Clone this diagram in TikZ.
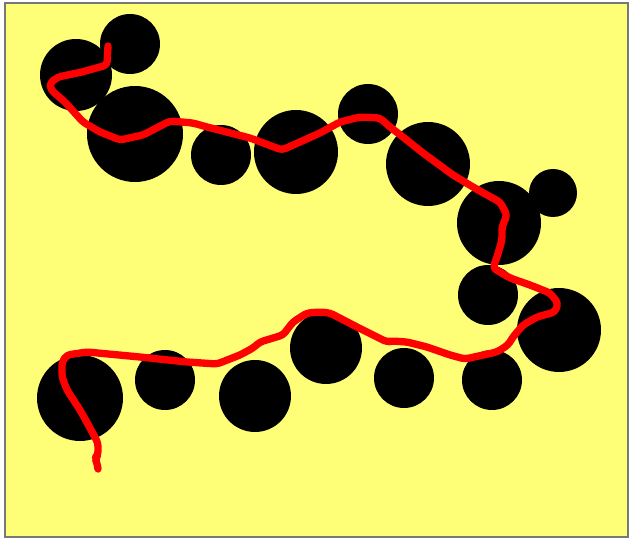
\documentclass[tikz,border=0pt]{standalone}
\definecolor{pad}{RGB}{255,255,119}
\definecolor{rim}{RGB}{120,120,120}
\begin{document}
\begin{tikzpicture}[x=0.03cm,y=-0.03cm,
		ball/.style = {fill = black},
		trail/.style = {draw = red, line width = 0.22cm, line join = round, line cap = round, rounded corners = 3pt}]
		\useasboundingbox (0,0) rectangle (631,539);
		\draw[fill = pad, draw = rim, line width = 0.05cm] (5,3) rectangle (628,537);
		
		\fill[ball] (76,75) circle (36);
		\fill[ball] (130,44) circle (30);
		\fill[ball] (135,134) circle (48);
		\fill[ball] (221,155) circle (30);
		\fill[ball] (296,152) circle (42);
		\fill[ball] (368,114) circle (30);
		\fill[ball] (428,164) circle (42);
		\fill[ball] (499,223) circle (42);
		\fill[ball] (553,193) circle (24);
		\fill[ball] (488,295) circle (30);
		\fill[ball] (559,330) circle (42);
		\fill[ball] (492,380) circle (30);
		\fill[ball] (404,378) circle (30);
		\fill[ball] (326,348) circle (36);
		\fill[ball] (255,396) circle (36);
		\fill[ball] (165,380) circle (30);
		\fill[ball] (80,398) circle (43);
		
		\draw[trail] (108,46) -- (107,65) -- (82,72) -- (58,77) -- (50,83) -- (51,90) -- (65,102)
			-- (83,122) -- (100,132) -- (120,140) -- (143,135) -- (170,121) -- (193,123)
			-- (207,127) -- (250,138) -- (282,150) -- (320,133) -- (340,122) -- (360,117)
			-- (380,118) -- (390,127) -- (403,137) -- (423,153) -- (453,175) -- (473,187)
			-- (487,195) -- (500,202) -- (507,215) -- (502,227) -- (502,240) -- (497,257)
			-- (493,268) -- (510,278) -- (530,285) -- (550,293) -- (558,303) -- (555,312)
			-- (537,317) -- (523,325) -- (513,337) -- (508,345) -- (497,352) -- (465,359)
			-- (450,355) -- (427,347) -- (407,342) -- (392,341) -- (387,342) -- (357,327)
			-- (330,313) -- (320,312) -- (307,313) -- (293,322) -- (283,335) -- (260,342)
			-- (253,348) -- (240,355) -- (217,364) -- (187,362) -- (140,357) -- (87,352)
			-- (67,355) -- (62,362) -- (62,377) -- (67,390) -- (80,410) -- (90,428)
			-- (98,443) -- (98,455) -- (95,458) -- (97,463) -- (98,469);
	\end{tikzpicture}
\end{document}
